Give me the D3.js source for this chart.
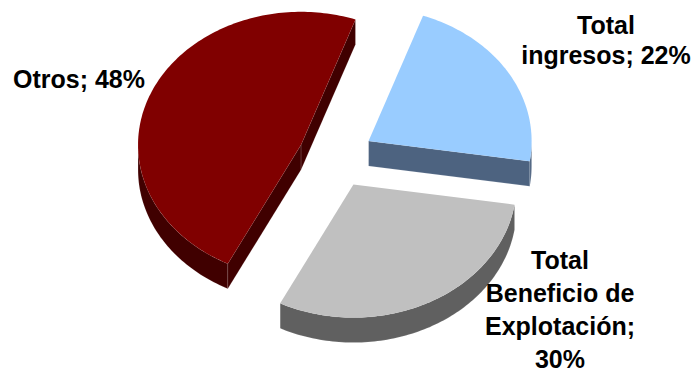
<!DOCTYPE html>
<html>
<head>
<meta charset="utf-8">
<script src="https://cdn.jsdelivr.net/npm/d3@7/dist/d3.min.js"></script>
<style>
  body { margin: 0; background: #fff; }
  text { font-family: "Liberation Sans", Arial, sans-serif; font-weight: bold; font-size: 25px; fill: #000; }
</style>
</head>
<body>
<script>
var width = 698,
    height = 374;

// data
var categories = ["Total ingresos", "Total Beneficio de Explotación", "Otros"];
var values = [22, 30, 48];
var labelLines = [
    ["Total", "ingresos; 22%"],
    ["Total", "Beneficio de", "Explotación;", "30%"],
    ["Otros; 48%"]
];
var topColors = ["#99ccff", "#c0c0c0", "#800000"];
var sideColors = ["#4d6380", "#606060", "#400000"];

// layout
var cx = 336, cy = 157,
    rx = 163, ry = 133,
    depth = 25,
    explode = 38,
    startDeg = 19.5;
var labelPos = [
    {x: 606, y: 34, lh: 30},
    {x: 560, y: 269, lh: 33},
    {x: 79, y: 88, lh: 30}
];

var svg = d3.select("body").append("svg")
    .attr("width", width)
    .attr("height", height);

var a0 = startDeg * Math.PI / 180;
var pie = d3.pie().sort(null).value(function(d) { return d; })
    .startAngle(a0).endAngle(a0 + 2 * Math.PI);
var slices = pie(values);

var line = d3.line();

function pt(o, a, r, dz) {
    return [o[0] + rx * r * Math.sin(a), o[1] - ry * r * Math.cos(a) + dz];
}
function arcPts(o, s, e, dz) {
    var n = Math.max(2, Math.ceil((e - s) / 0.02));
    return d3.range(n + 1).map(function(i) { return pt(o, s + (e - s) * i / n, 1, dz); });
}

slices.forEach(function(d, i) {
    var mid = (d.startAngle + d.endAngle) / 2;
    d.index = i;
    d.o = [cx + explode * Math.sin(mid), cy - explode * (ry / rx) * Math.cos(mid)];
});

// back to front
var order = slices.slice().sort(function(a, b) { return a.o[1] - b.o[1]; });

order.forEach(function(d) {
    var g = svg.append("g").attr("class", "slice");
    var o = d.o, s = d.startAngle, e = d.endAngle;
    var side = sideColors[d.index], top = topColors[d.index];

    // outer wall, front half only
    [0, 1].forEach(function(k) {
        var lo = Math.max(s, Math.PI / 2 + 2 * Math.PI * k),
            hi = Math.min(e, 3 * Math.PI / 2 + 2 * Math.PI * k);
        if (hi > lo) {
            var pts = arcPts(o, lo, hi, 0).concat(arcPts(o, lo, hi, depth).reverse());
            g.append("path")
                .attr("d", line(pts) + "Z")
                .attr("fill", side)
                .attr("stroke", "rgba(255,255,255,0.2)")
                .attr("stroke-width", 0.6);
        }
    });

    // radial walls facing the viewer
    [[s, s - Math.PI / 2], [e, e + Math.PI / 2]].forEach(function(w) {
        if (Math.cos(w[1]) < 0) {
            var p1 = pt(o, w[0], 1, 0);
            var pts = [o, p1, [p1[0], p1[1] + depth], [o[0], o[1] + depth]];
            g.append("path")
                .attr("d", line(pts) + "Z")
                .attr("fill", side)
                .attr("stroke", "rgba(255,255,255,0.2)")
                .attr("stroke-width", 0.6);
        }
    });

    // top face
    g.append("path")
        .attr("d", line([o].concat(arcPts(o, s, e, 0))) + "Z")
        .attr("fill", top);
});

// labels
labelLines.forEach(function(lines, i) {
    var t = svg.append("text")
        .attr("text-anchor", "middle")
        .attr("x", labelPos[i].x)
        .attr("y", labelPos[i].y);
    lines.forEach(function(l, j) {
        t.append("tspan")
            .attr("x", labelPos[i].x)
            .attr("dy", j == 0 ? 0 : labelPos[i].lh)
            .text(l);
    });
});
</script>
</body>
</html>
